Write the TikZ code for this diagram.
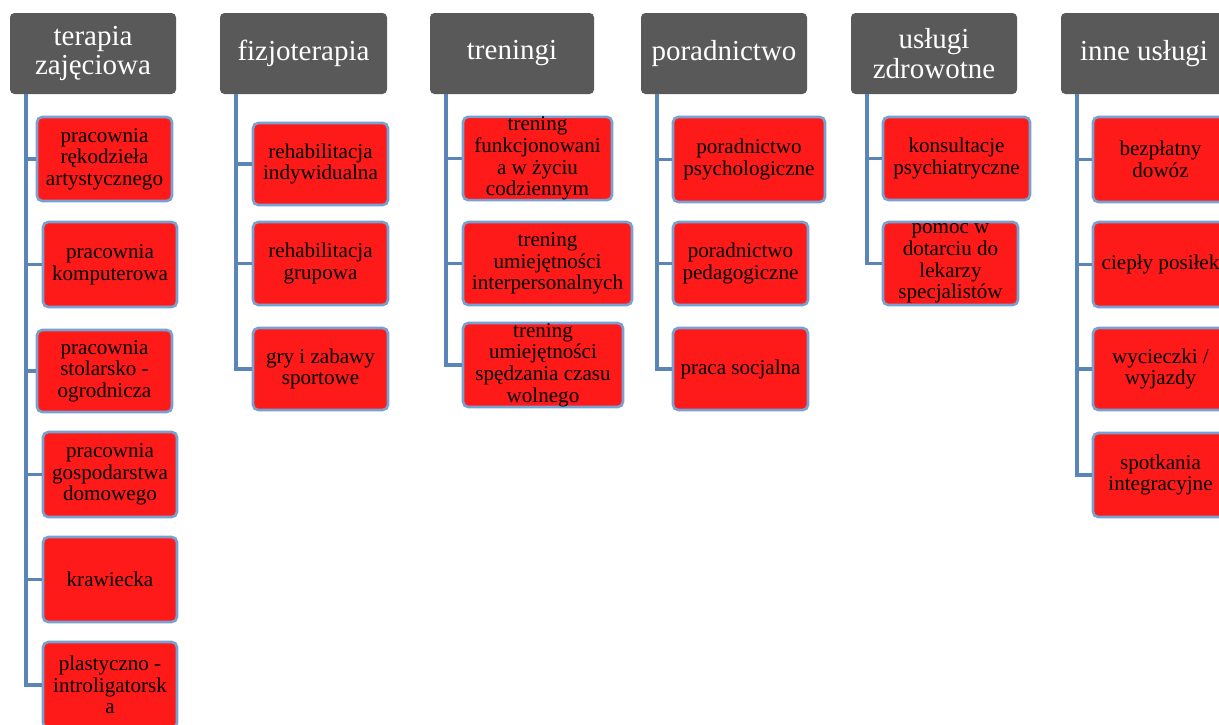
\documentclass[tikz,border=0pt]{standalone}
\usepackage{fontspec}
\setmainfont{Liberation Serif}
\usepackage{tikz}
\definecolor{headgray}{HTML}{595959}
\definecolor{boxred}{HTML}{FF1A1A}
\definecolor{boxrim}{HTML}{78A1D2}
\definecolor{linkblue}{HTML}{5A85B7}
\tikzset{%
  head/.style 2 args={fill=headgray, text=white, rounded corners=2.5pt,
    inner sep=0pt, align=center, minimum width=#1*0.02cm, minimum height=#2*0.02cm,
    font=\fontsize{16.5}{17}\selectfont}}
\tikzset{%
  sub/.style 2 args={draw=boxrim, line width=1.5pt, fill=boxred, rounded corners=3pt,
    inner sep=0pt, align=center, minimum width=#1*0.02cm, minimum height=#2*0.02cm,
    font=\fontsize{12}{12.3}\selectfont}}
\tikzset{link/.style={draw=linkblue, line width=2pt}}

\begin{document}
\begin{tikzpicture}[x=0.02cm, y=-0.02cm]
\useasboundingbox (0,0) rectangle (1219,724);
% headers
\node[head={166}{81}] (h1) at (93,53.5) {terapia\\zajęciowa};
\node[head={167}{81}] (h2) at (303.5,53.5) {fizjoterapia};
\node[head={164}{81}] (h3) at (512,53.5) {treningi};
\node[head={166}{81}] (h4) at (724,53.5) {poradnictwo};
\node[head={166}{81}] (h5) at (934,53.5) {usługi\\zdrowotne};
\node[head={166}{81}] (h6) at (1144,53.5) {inne usługi};
% terapia zajeciowa
\node[sub={135}{84}] (a1) at (104.5,159) {pracownia\\rękodzieła\\artystycznego};
\node[sub={134}{85}] (a2) at (110,264.5) {pracownia\\komputerowa};
\node[sub={135}{82}] (a3) at (104.5,371) {pracownia\\stolarsko -\\ogrodnicza};
\node[sub={134}{85}] (a4) at (110,474.5) {pracownia\\gospodarstwa\\domowego};
\node[sub={134}{85}] (a5) at (110,579.5) {krawiecka};
\node[sub={134}{86}] (a6) at (110,685) {plastyczno -\\introligatorsk\\a};
% fizjoterapia
\node[sub={135}{82}] (b1) at (320.5,164) {rehabilitacja\\indywidualna};
\node[sub={135}{83}] (b2) at (320.5,263.5) {rehabilitacja\\grupowa};
\node[sub={135}{82}] (b3) at (320.5,369) {gry i zabawy\\sportowe};
% treningi
\node[sub={149}{83}] (c1) at (537.5,158.5) {trening\\funkcjonowani\\a w życiu\\codziennym};
\node[sub={169}{83}] (c2) at (547.5,263.5) {trening\\umiejętności\\interpersonalnych};
\node[sub={160}{84}] (c3) at (543,365) {trening\\umiejętności\\spędzania czasu\\wolnego};
% poradnictwo
\node[sub={152}{85}] (d1) at (749,159.5) {poradnictwo\\psychologiczne};
\node[sub={135}{83}] (d2) at (740.5,263.5) {poradnictwo\\pedagogiczne};
\node[sub={135}{82}] (d3) at (740.5,369) {praca socjalna};
% uslugi zdrowotne
\node[sub={147}{83}] (e1) at (956.5,158.5) {konsultacje\\psychiatryczne};
\node[sub={135}{83}] (e2) at (950.5,263.5) {pomoc w\\dotarciu do\\lekarzy\\specjalistów};
% inne uslugi
\node[sub={135}{85}] (f1) at (1160.5,159.5) {bezpłatny\\dowóz};
\node[sub={135}{85}] (f2) at (1160.5,264.5) {ciepły posiłek};
\node[sub={135}{82}] (f3) at (1160.5,369) {wycieczki /\\wyjazdy};
\node[sub={135}{84}] (f4) at (1160.5,475) {spotkania\\integracyjne};
% connectors
\coordinate (t1) at (26,94);
\coordinate (t2) at (236,94);
\coordinate (t3) at (446,94);
\coordinate (t4) at (657,94);
\coordinate (t5) at (867,94);
\coordinate (t6) at (1077,94);
\draw[link] (t1) |- (a6.west);
\foreach \i in {1,...,5} \draw[link] (t1 |- a\i.west) -- (a\i.west);
\draw[link] (t2) |- (b3.west);
\foreach \i in {1,2} \draw[link] (t2 |- b\i.west) -- (b\i.west);
\draw[link] (t3) |- (c3.west);
\foreach \i in {1,2} \draw[link] (t3 |- c\i.west) -- (c\i.west);
\draw[link] (t4) |- (d3.west);
\foreach \i in {1,2} \draw[link] (t4 |- d\i.west) -- (d\i.west);
\draw[link] (t5) |- (e2.west);
\draw[link] (t5 |- e1.west) -- (e1.west);
\draw[link] (t6) |- (f4.west);
\foreach \i in {1,2,3} \draw[link] (t6 |- f\i.west) -- (f\i.west);
\end{tikzpicture}
\end{document}
